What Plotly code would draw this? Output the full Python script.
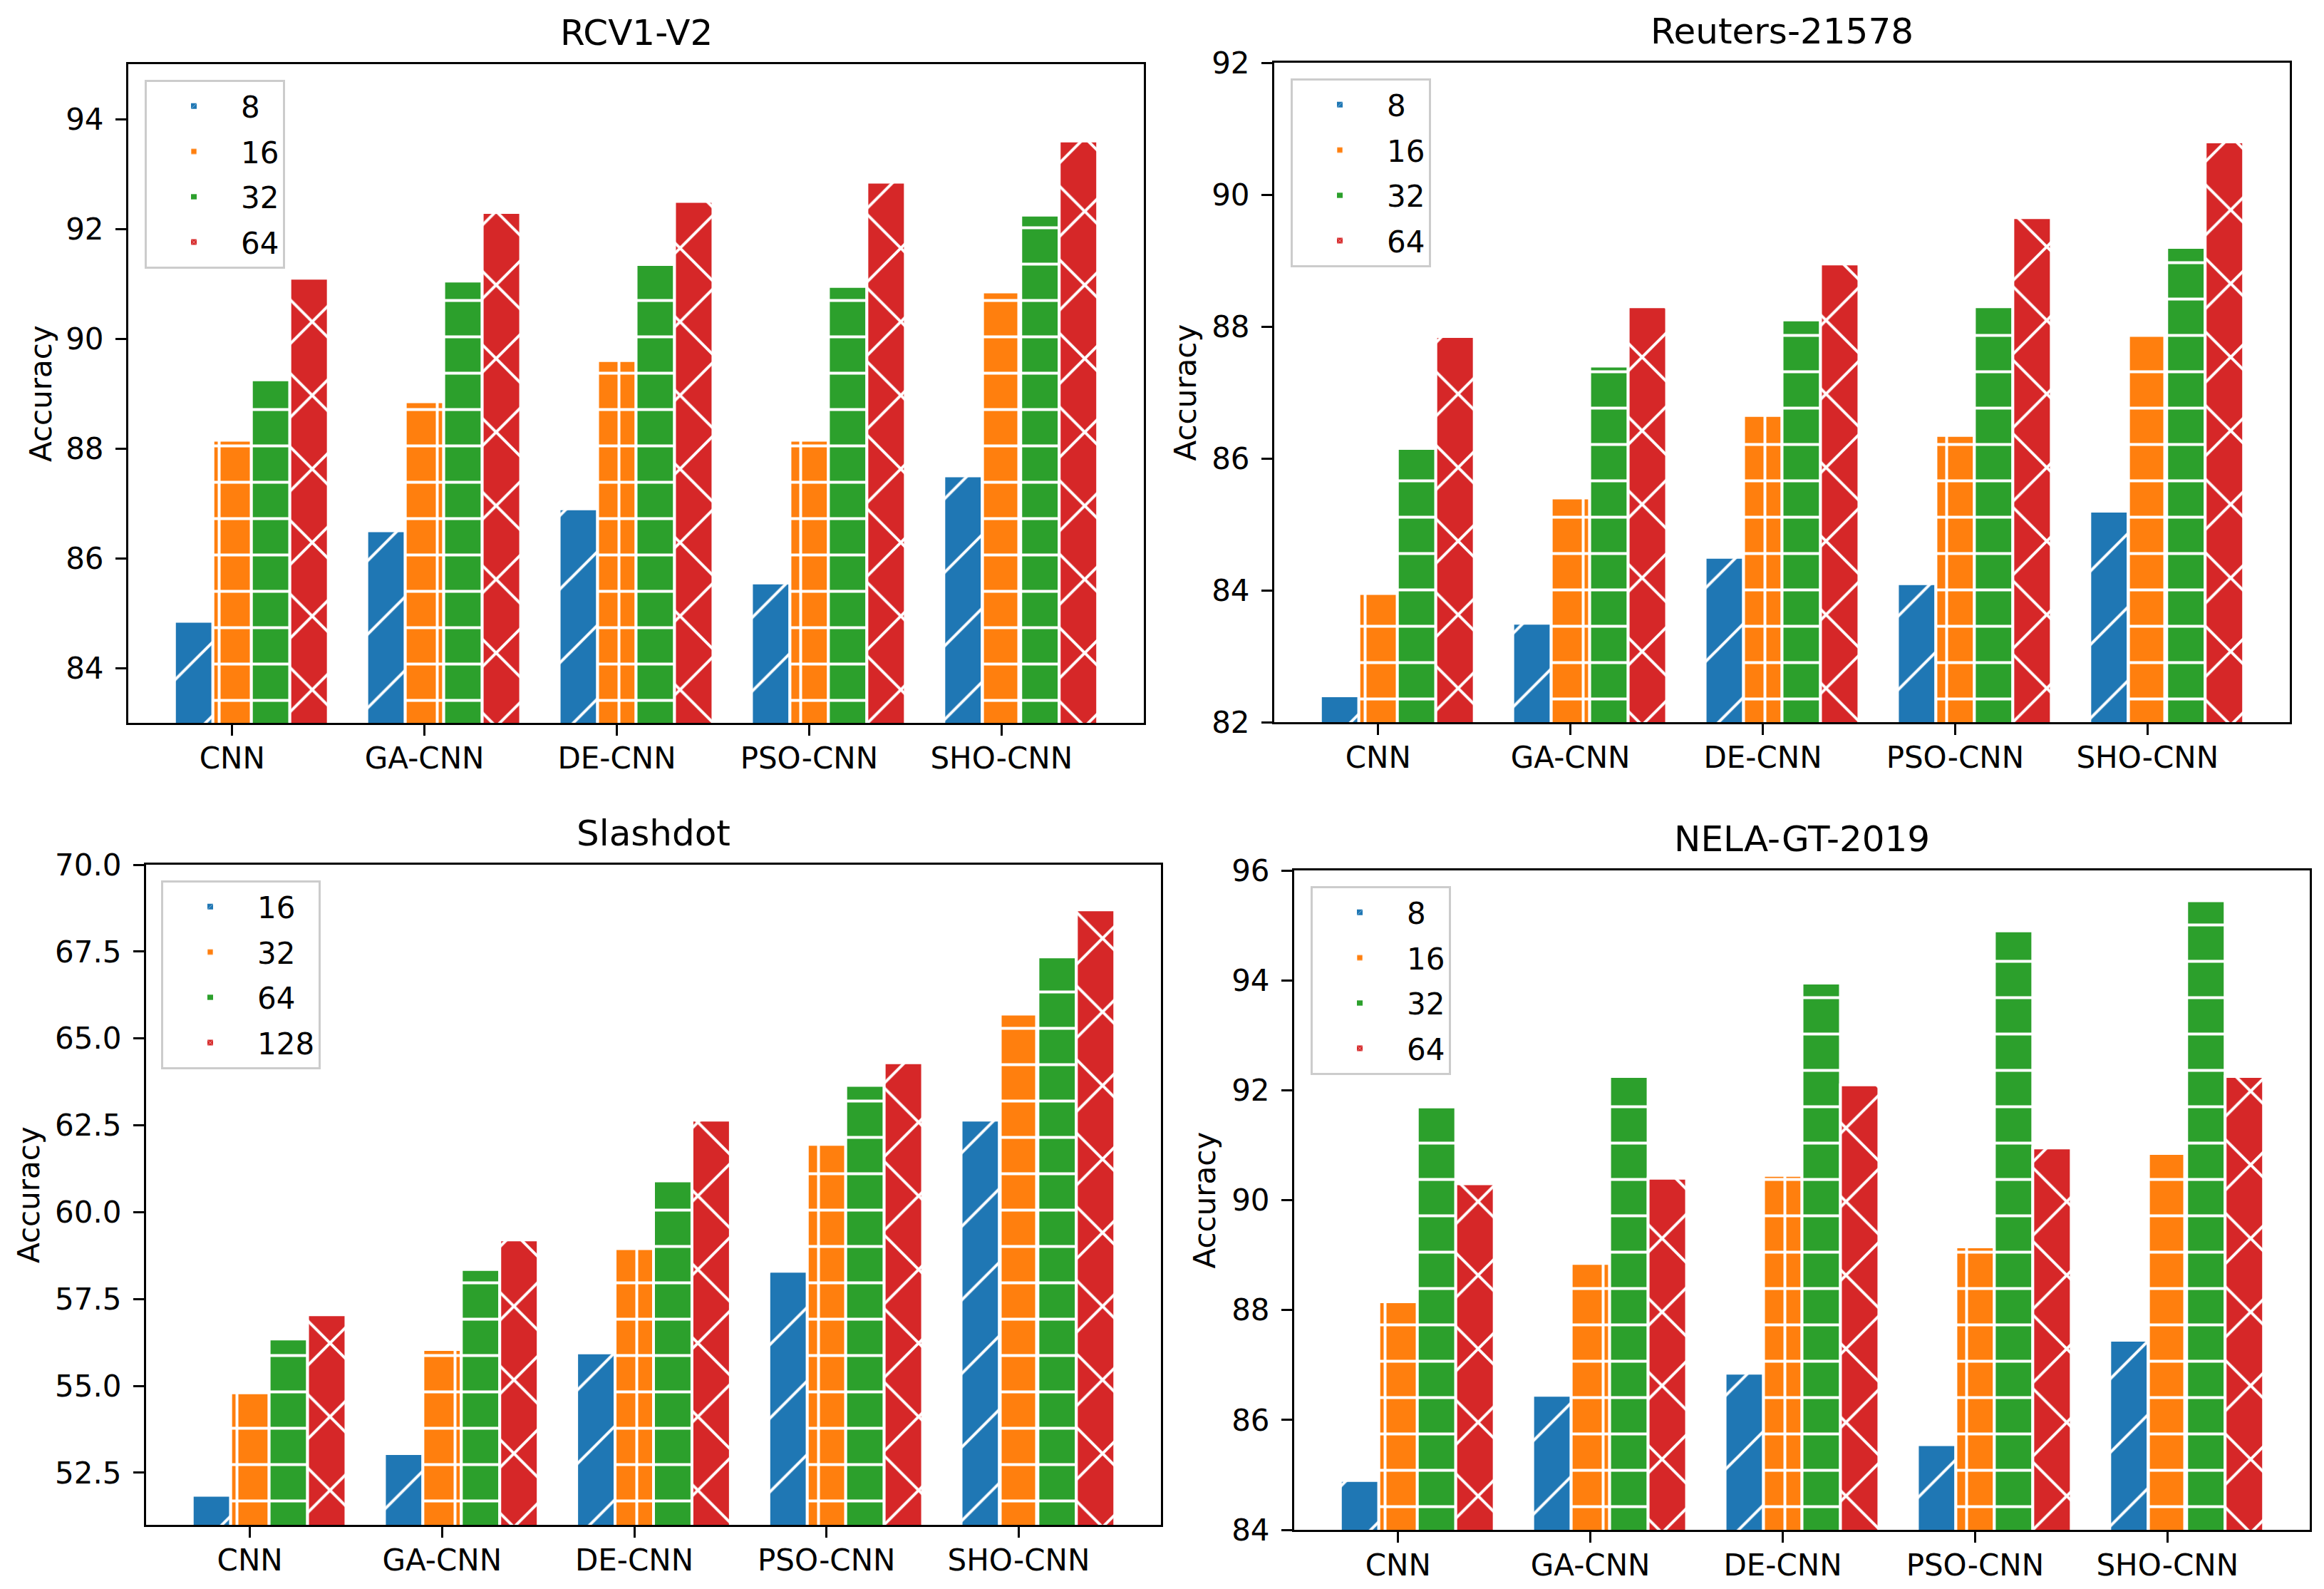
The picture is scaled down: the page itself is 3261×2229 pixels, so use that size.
import numpy as np
import plotly.graph_objects as go

methods = ["CNN", "GA-CNN", "DE-CNN", "PSO-CNN", "SHO-CNN"]

# RCV1-V2
rcv1_labels = ["8", "16", "32", "64"]
rcv1_8 = [84.85, 86.5, 86.9, 85.55, 87.5]
rcv1_16 = [88.15, 88.85, 89.6, 88.15, 90.85]
rcv1_32 = [89.25, 91.05, 91.35, 90.95, 92.25]
rcv1_64 = [91.1, 92.3, 92.5, 92.85, 93.6]

# Reuters-21578
reuters_labels = ["8", "16", "32", "64"]
reuters_8 = [82.4, 83.5, 84.5, 84.1, 85.2]
reuters_16 = [83.95, 85.4, 86.65, 86.35, 87.9]
reuters_32 = [86.15, 87.4, 88.1, 88.3, 89.2]
reuters_64 = [87.85, 88.3, 88.95, 89.65, 90.8]

# Slashdot
slash_labels = ["16", "32", "64", "128"]
slash_16 = [51.85, 53.05, 55.95, 58.3, 62.65]
slash_32 = [54.8, 56.05, 58.95, 61.95, 65.7]
slash_64 = [56.35, 58.35, 60.9, 63.65, 67.35]
slash_128 = [57.05, 59.2, 62.65, 64.3, 68.7]

# NELA-GT-2019
nela_labels = ["8", "16", "32", "64"]
nela_8 = [84.9, 86.45, 86.85, 85.55, 87.45]
nela_16 = [88.15, 88.85, 90.45, 89.15, 90.85]
nela_32 = [91.7, 92.25, 93.95, 94.9, 95.45]
nela_64 = [90.3, 90.4, 92.1, 90.95, 92.25]

titles = ["RCV1-V2", "Reuters-21578", "Slashdot", "NELA-GT-2019"]

PAGE_W, PAGE_H = 3261, 2229
BODY = 8  # default page body margin
W, H = PAGE_W - 2 * BODY, PAGE_H - 2 * BODY
FONT = "DejaVu Sans"
colors = ["#1f77b4", "#ff7f0e", "#2ca02c", "#d62728"]
shapes = ["/", "+", "-", "x"]
psizes = [73, 51, 51, 73]
psolid = [0.055, 0.15, 0.08, 0.107]
bar_w = 0.2
offsets = [-0.2, 0.0, 0.2, 0.4]

panels = [
    dict(labels=rcv1_labels, series=[rcv1_8, rcv1_16, rcv1_32, rcv1_64],
         px=(180, 1605), py=(90, 1014), yr=[83, 95], tv=[84, 86, 88, 90, 92, 94], fmt="d",
         leg=(203, 112), ylab=-123),
    dict(labels=reuters_labels, series=[reuters_8, reuters_16, reuters_32, reuters_64],
         px=(1788, 3213), py=(88, 1013), yr=[82, 92], tv=[82, 84, 86, 88, 90, 92], fmt="d",
         leg=(1811, 110), ylab=-125),
    dict(labels=slash_labels, series=[slash_16, slash_32, slash_64, slash_128],
         px=(205, 1629), py=(1213, 2139), yr=[51, 70], tv=[52.5, 55, 57.5, 60, 62.5, 65, 67.5, 70], fmt=".1f",
         leg=(226, 1235), ylab=-165),
    dict(labels=nela_labels, series=[nela_8, nela_16, nela_32, nela_64],
         px=(1816, 3241), py=(1221, 2146), yr=[84, 96], tv=[84, 86, 88, 90, 92, 94, 96], fmt="d",
         leg=(1839, 1243), ylab=-126),
]


def fx(px):
    return (px - BODY) / W


def fy(py):
    return 1 - (py - BODY) / H


fig = go.Figure()
layout = dict(width=W, height=H, margin=dict(l=0, r=0, t=0, b=0, autoexpand=False),
              paper_bgcolor="white", plot_bgcolor="white", barmode="overlay",
              font=dict(family=FONT, size=42, color="black"), annotations=[])

xpos = np.arange(len(methods))
for p, pan in enumerate(panels):
    sfx = "" if p == 0 else str(p + 1)
    legname = "legend" + sfx
    for k, vals in enumerate(pan["series"]):
        fig.add_trace(go.Bar(
            x=xpos + offsets[k], y=vals, width=bar_w, name=pan["labels"][k],
            xaxis="x" + sfx, yaxis="y" + sfx, legend=legname,
            legendgroup="p%dk%d" % (p, k),
            marker=dict(color=colors[k], line=dict(color="white", width=4),
                        pattern=dict(shape=shapes[k], size=psizes[k], solidity=psolid[k],
                                     bgcolor=colors[k], fgcolor="white", fgopacity=1)),
        ))
    x0, x1 = fx(pan["px"][0]), fx(pan["px"][1])
    y0, y1 = fy(pan["py"][1]), fy(pan["py"][0])
    layout["xaxis" + sfx] = dict(
        domain=[x0, x1], anchor="y" + sfx, range=[-0.54, 4.74], automargin=False,
        tickmode="array", tickvals=list(xpos), ticktext=methods,
        showline=True, mirror=True, linecolor="black", linewidth=3,
        ticks="outside", ticklen=15, tickwidth=3, tickcolor="black",
        showgrid=False, zeroline=False, ticklabelstandoff=-4,
        tickfont=dict(family=FONT, size=42, color="black"))
    layout["yaxis" + sfx] = dict(
        domain=[y0, y1], anchor="x" + sfx, range=pan["yr"], automargin=False,
        tickmode="array", tickvals=pan["tv"], tickformat=pan["fmt"],
        showline=True, mirror=True, linecolor="black", linewidth=3,
        ticks="outside", ticklen=15, tickwidth=3, tickcolor="black",
        showgrid=False, zeroline=False, ticklabelstandoff=8,
        tickfont=dict(family=FONT, size=42, color="black"))
    layout[legname] = dict(
        x=fx(pan["leg"][0]), y=fy(pan["leg"][1]), xanchor="left", yanchor="top",
        xref="paper", yref="paper", itemwidth=122,
        bgcolor="white", bordercolor="#cccccc", borderwidth=3,
        font=dict(family=FONT, size=42, color="black"), tracegroupgap=6)
    layout["annotations"].append(dict(
        text=titles[p], x=(x0 + x1) / 2, y=y1, xref="paper", yref="paper",
        xanchor="center", yanchor="middle", yshift=44, showarrow=False,
        font=dict(family=FONT, size=50, color="black")))
    layout["annotations"].append(dict(
        text="Accuracy", x=x0, y=(y0 + y1) / 2, xref="paper", yref="paper",
        xanchor="center", yanchor="middle", xshift=pan["ylab"], textangle=-90,
        showarrow=False, font=dict(family=FONT, size=42, color="black")))

fig.update_layout(**layout)
fig.write_html("out.html")
